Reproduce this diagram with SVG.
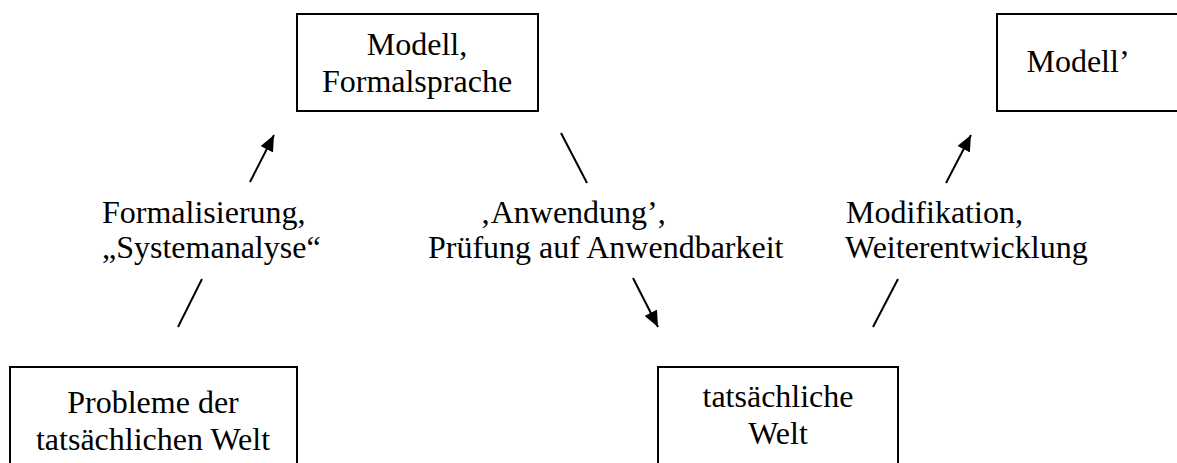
<svg xmlns="http://www.w3.org/2000/svg" width="1177" height="463" viewBox="0 0 1177 463">
<style>
.box{fill:#fff;stroke:#000;stroke-width:2}
.t{font-family:"Liberation Serif","Times New Roman",serif;font-size:32px;fill:#000}
.c{text-anchor:middle}
.ln{stroke:#000;stroke-width:2;fill:none}
</style>
<defs>
<marker id="ah" markerUnits="userSpaceOnUse" markerWidth="18" markerHeight="14" refX="16" refY="7" orient="auto">
<path d="M0,0 L16,7 L0,14 z" fill="#000"/>
</marker>
</defs>
<rect width="1177" height="463" fill="#fff"/>
<g id="node-modell">
<rect class="box" x="297" y="14" width="241" height="97"/>
<text class="t c" x="417" y="55">Modell,</text>
<text class="t c" x="417" y="92">Formalsprache</text>
</g>
<g id="node-modell2">
<rect class="box" x="997" y="14" width="200" height="97"/>
<text class="t c" x="1078" y="72">Modell’</text>
</g>
<g id="node-probleme">
<rect class="box" x="10" y="367" width="287" height="110"/>
<text class="t c" x="153" y="413">Probleme der</text>
<text class="t c" x="153" y="450">tatsächlichen Welt</text>
</g>
<g id="node-welt">
<rect class="box" x="658" y="367" width="240" height="110"/>
<text class="t c" x="778" y="407">tatsächliche</text>
<text class="t c" x="778" y="444">Welt</text>
</g>
<g id="connectors">
<line class="ln" x1="178" y1="327" x2="202" y2="279"/>
<line class="ln" x1="250" y1="182" x2="274" y2="135" marker-end="url(#ah)"/>
<line class="ln" x1="561" y1="133" x2="587" y2="183"/>
<line class="ln" x1="633" y1="278" x2="658" y2="327" marker-end="url(#ah)"/>
<line class="ln" x1="873" y1="327" x2="898" y2="279"/>
<line class="ln" x1="946" y1="183" x2="971" y2="135" marker-end="url(#ah)"/>
</g>
<g id="labels">
<text class="t" x="102" y="223">Formalisierung,</text>
<text class="t" x="102" y="258">„Systemanalyse“</text>
<text class="t" x="480" y="223">‚Anwendung’,</text>
<text class="t" x="428" y="258">Prüfung auf Anwendbarkeit</text>
<text class="t" x="846" y="223">Modifikation,</text>
<text class="t" x="845" y="258">Weiterentwicklung</text>
</g>
</svg>
